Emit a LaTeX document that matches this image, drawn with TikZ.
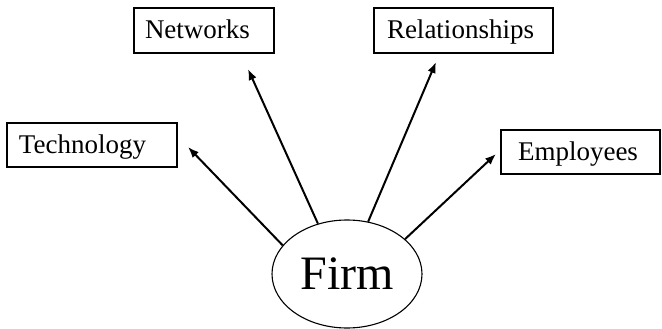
\documentclass[tikz,border=0pt]{standalone}
\usepackage{fontspec}
\setmainfont{Liberation Serif}
\usetikzlibrary{shapes.geometric,arrows.meta}
\begin{document}
\begin{tikzpicture}[x=1pt,y=-1pt,
  factor/.style={draw, line width=2.6pt, inner ysep=0pt, align=left,
    text depth=2pt, minimum height=44pt, font=\fontsize{27}{30}\selectfont},
  hub/.style={draw, ellipse, line width=1.1pt, inner sep=0pt,
    minimum width=150pt, minimum height=108pt, font=\fontsize{48}{52}\selectfont},
  link/.style={line width=2pt, -{Latex[length=11pt,width=8.5pt]}}]
\useasboundingbox (0,0) rectangle (662,329);

% central firm
\node[hub] (firm) at (347,274) {Firm};

% surrounding factors
\node[factor, minimum width=170pt, inner xsep=12pt, text width=146pt] (tech) at (92,145) {Technology};
\node[factor, minimum width=140pt, inner xsep=11pt, text width=118pt, minimum height=45pt] (net) at (204,30.5) {Networks};
\node[factor, minimum width=179pt, inner xsep=13pt, text width=153pt, minimum height=45pt] (rel) at (463.5,30.5) {Relationships};
\node[factor, minimum width=159pt, inner xsep=17pt, text width=125pt] (emp) at (580.5,152) {Employees};

% arrow tips stop short of the boxes
\coordinate (techtip) at (188,147);
\coordinate (nettip) at (248,69);
\coordinate (reltip) at (436,62);
\coordinate (emptip) at (496,154);

\draw[link] (firm.156) -- (techtip);
\draw[link] (firm.120) -- (nettip);
\draw[link] (firm.68) -- (reltip);
\draw[link] (firm.31) -- (emptip);
\end{tikzpicture}
\end{document}
